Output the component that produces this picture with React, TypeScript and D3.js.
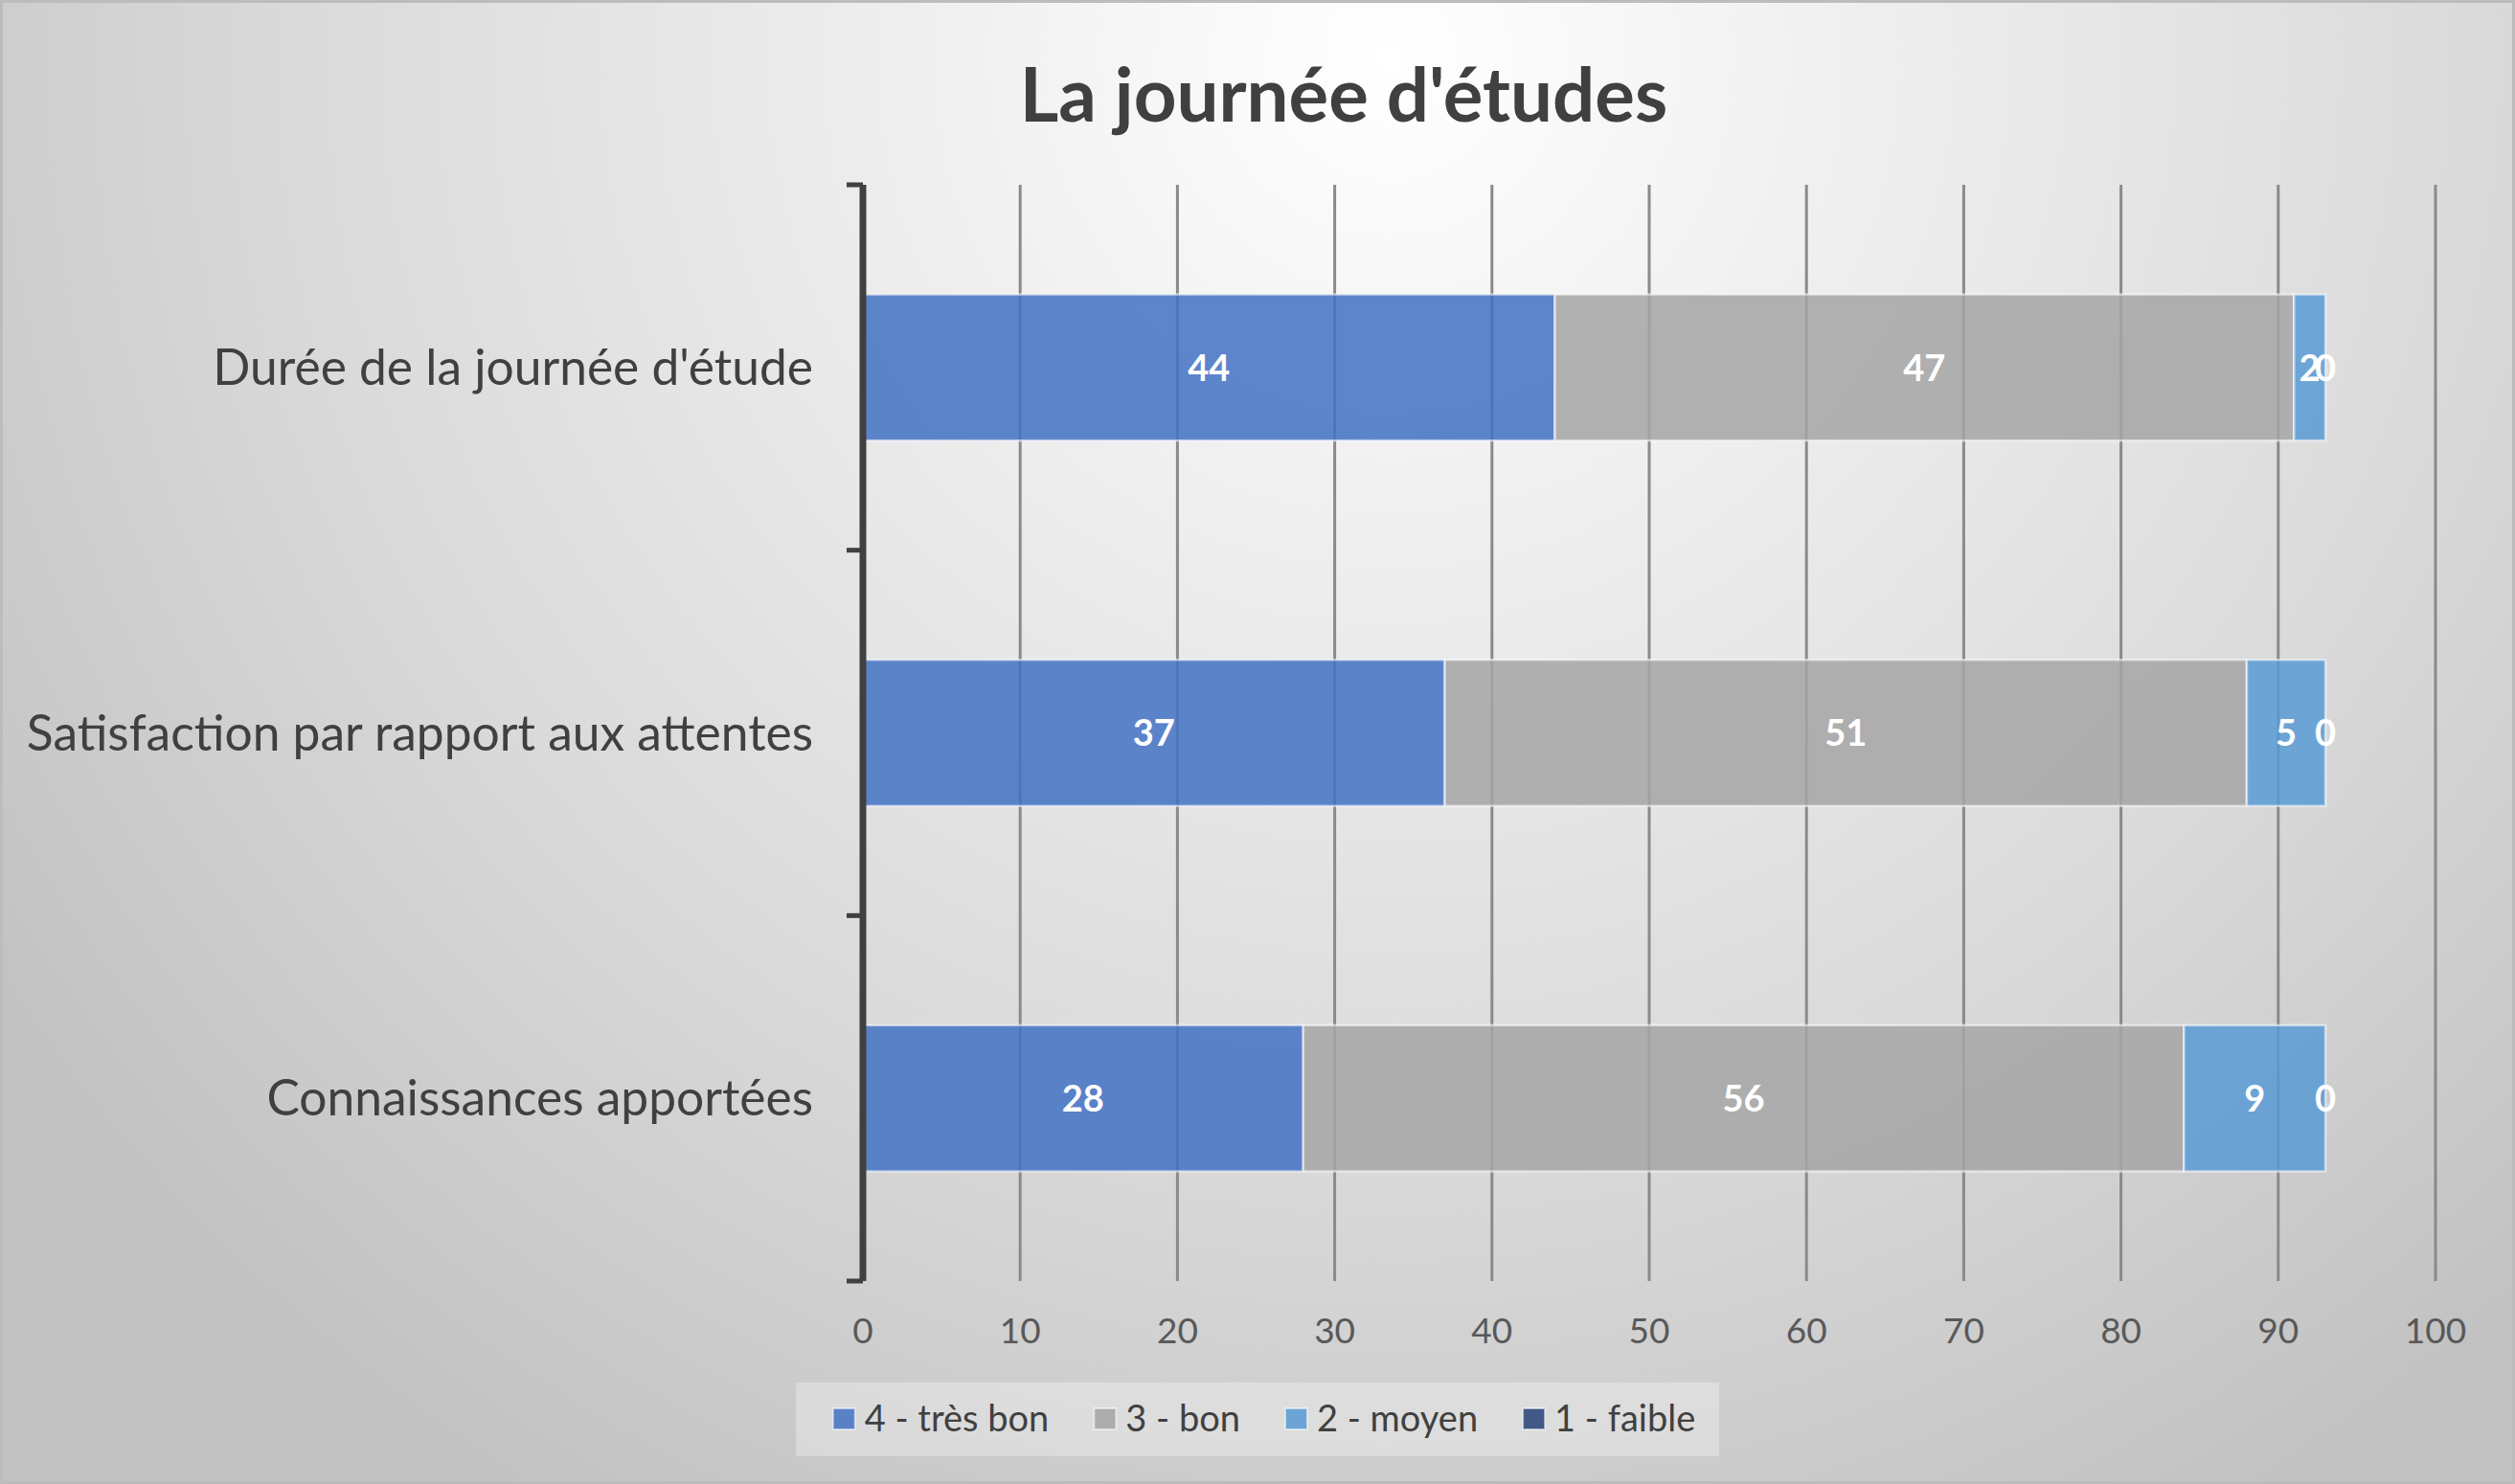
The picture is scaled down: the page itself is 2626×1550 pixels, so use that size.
import React from "react";
import * as d3 from "d3";

const W = 2626;
const H = 1550;

const title = "La journée d'études";
const categories = [
  "Durée de la journée d'étude",
  "Satisfaction par rapport aux attentes",
  "Connaissances apportées",
];
const seriesNames = ["4 - très bon", "3 - bon", "2 - moyen", "1 - faible"];
const seriesColors = ["#4472C4", "#A5A5A5", "#5B9BD5", "#264478"];
const tresBon = [44, 37, 28];
const bon = [47, 51, 56];
const moyen = [2, 5, 9];
const faible = [0, 0, 0];
const xTicks = [0, 10, 20, 30, 40, 50, 60, 70, 80, 90, 100];

const FONT = "Lato, 'Open Sans', sans-serif";

function measure(text: string, font: string) {
  const c = document.createElement("canvas");
  const ctx = c.getContext("2d")!;
  ctx.font = font;
  return ctx.measureText(text).width;
}

export default function App() {
  const rows = categories.map((c, i) => ({
    cat: c,
    [seriesNames[0]]: tresBon[i],
    [seriesNames[1]]: bon[i],
    [seriesNames[2]]: moyen[i],
    [seriesNames[3]]: faible[i],
  }));
  const stack = d3.stack<any>().keys(seriesNames)(rows);

  const x = d3.scaleLinear().domain([0, 100]).range([901, 2543]);
  const y = d3
    .scaleBand<string>()
    .domain(categories)
    .range([193, 1338])
    .paddingInner(0.6)
    .paddingOuter(0.3);
  const color = d3.scaleOrdinal<string, string>().domain(seriesNames).range(seriesColors);

  const bandEdges = [193, ...categories.map((c) => (y(c) as number) + y.bandwidth() + (y.step() - y.bandwidth()) / 2)];

  // legend layout
  const legendFont = `38px ${FONT}`;
  const marker = 23;
  const gapMT = 10;
  const gapItem = 47;
  const widths = seriesNames.map((s) => measure(s, legendFont));
  const total = widths.reduce((a, w) => a + marker + gapMT + w, 0) + gapItem * (seriesNames.length - 1);
  let lx = 1320 - total / 2;
  const legendItems = seriesNames.map((s, i) => {
    const item = { name: s, x: lx, w: widths[i] };
    lx += marker + gapMT + widths[i] + gapItem;
    return item;
  });

  return (
    <svg
      width={W}
      height={H}
      style={{ position: "absolute", left: 0, top: 0, display: "block" }}
      fontFamily={FONT}
    >
      <defs>
        <radialGradient id="bg" gradientUnits="userSpaceOnUse" cx={1450} cy={60} r={1750}>
          <stop offset="0" stopColor="#ffffff" />
          <stop offset="0.3" stopColor="#eeeeee" />
          <stop offset="0.65" stopColor="#dadada" />
          <stop offset="1" stopColor="#c2c2c2" />
        </radialGradient>
      </defs>
      <rect x={0} y={0} width={W} height={H} fill="url(#bg)" />
      <rect x={1.5} y={1.5} width={W - 3} height={H - 3} fill="none" stroke="#bcbcbc" strokeWidth={3} />

      <text
        x={1403}
        y={127}
        textAnchor="middle"
        fontSize={78}
        fontWeight={700}
        fill="#404040"
      >
        {title}
      </text>

      {/* gridlines */}
      {xTicks.map((t) => (
        <line key={t} x1={x(t)} x2={x(t)} y1={193} y2={1338} stroke="#8a8a8a" strokeWidth={3} />
      ))}

      {/* bars */}
      {stack.map((layer) => (
        <g key={layer.key}>
          {layer.map((d, i) => (
            <rect
              key={i}
              x={x(d[0])}
              y={y(categories[i])}
              width={Math.max(0, x(d[1]) - x(d[0]))}
              height={y.bandwidth()}
              fill={color(layer.key)}
              fillOpacity={0.86}
              stroke="#ffffff"
              strokeOpacity={0.55}
              strokeWidth={2.5}
            />
          ))}
        </g>
      ))}

      {/* data labels */}
      {stack.map((layer) => (
        <g key={"l" + layer.key}>
          {layer.map((d, i) => (
            <text
              key={i}
              x={(x(d[0]) + x(d[1])) / 2}
              y={(y(categories[i]) as number) + y.bandwidth() / 2}
              dy="0.36em"
              textAnchor="middle"
              fontSize={38}
              fontWeight={700}
              fill="#ffffff"
            >
              {d[1] - d[0]}
            </text>
          ))}
        </g>
      ))}

      {/* category axis */}
      <line x1={901} x2={901} y1={193} y2={1338} stroke="#404040" strokeWidth={7} />
      {bandEdges.map((e, i) => (
        <line key={i} x1={884} x2={901} y1={e} y2={e} stroke="#404040" strokeWidth={5} />
      ))}
      {categories.map((c) => (
        <text
          key={c}
          x={849}
          y={(y(c) as number) + y.bandwidth() / 2}
          dy="0.35em"
          textAnchor="end"
          fontSize={51.5}
          fill="#404040"
        >
          {c}
        </text>
      ))}

      {/* value axis labels */}
      {xTicks.map((t) => (
        <text key={"t" + t} x={x(t)} y={1390} dy="0.35em" textAnchor="middle" fontSize={37} fill="#595959">
          {t}
        </text>
      ))}

      {/* legend */}
      <rect x={831} y={1444} width={964} height={77} fill="#ffffff" fillOpacity={0.3} />
      {legendItems.map((it, i) => (
        <g key={it.name}>
          <rect
            x={it.x}
            y={1471}
            width={marker}
            height={22}
            fill={seriesColors[i]}
            fillOpacity={0.86}
            stroke="#ffffff"
            strokeOpacity={0.55}
            strokeWidth={2}
          />
          <text x={it.x + marker + gapMT} y={1482} dy="0.35em" fontSize={38} fill="#404040">
            {it.name}
          </text>
        </g>
      ))}
    </svg>
  );
}
